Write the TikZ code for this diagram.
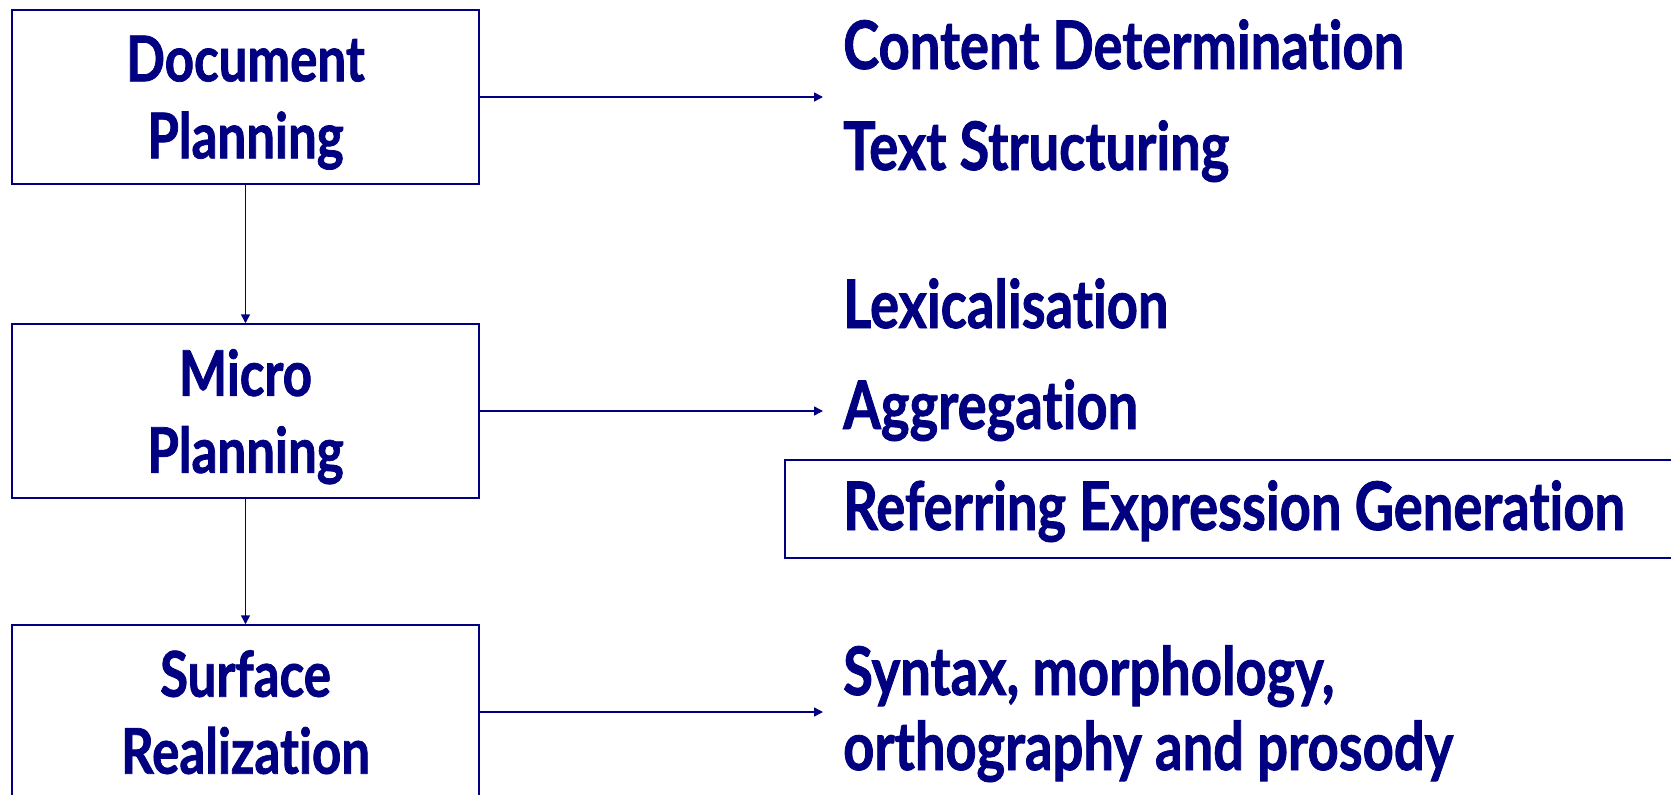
\documentclass[tikz,border=0pt]{standalone}
\usepackage{fontspec}
\newfontfamily\dfont{Lato}[FakeStretch=0.81, Ligatures=NoCommon, BoldFeatures={FakeBold=1.2}]
\usetikzlibrary{arrows.meta}
\definecolor{navy}{RGB}{0,0,128}
\begin{document}
\begin{tikzpicture}[x=1pt,y=-1pt,
  stage/.style={draw=navy, line width=1.5pt, minimum width=467pt, minimum height=174pt,
    inner sep=0pt, align=center, text=navy, text depth=0pt,
    font=\dfont\bfseries\fontsize{63}{77}\selectfont},
  item/.style={anchor=base west, inner sep=0pt, text=navy,
    font=\dfont\bfseries\fontsize{67}{80}\selectfont},
  conn/.style={draw=navy, line width=1.5pt, -{Triangle[length=9pt,width=9pt]}}]
\useasboundingbox (0,0) rectangle (1671,795);
\node[stage] (doc) at (245.5,97) {Document\\Planning};
\node[stage] (mic) at (245.5,411) {Micro\\Planning};
\node[stage] (sur) at (245.5,712) {Surface\\Realization};
\coordinate (e1) at (823,97);
\coordinate (e2) at (823,411);
\coordinate (e3) at (823,712);
\draw[conn] (doc.east) -- (e1);
\draw[conn] (mic.east) -- (e2);
\draw[conn] (sur.east) -- (e3);
\draw[conn] (doc.south) -- (mic.north);
\draw[conn] (mic.south) -- (sur.north);
\draw[navy, line width=1.5pt] (785,460) rectangle (1690,558);
\node[item] (cd) at (843,69) {Content Determination};
\node[item] (ts) at (843,170) {Text Structuring};
\node[item] (lx) at (843,328) {Lexicalisation};
\node[item] (ag) at (843,429) {Aggregation};
\node[item] (re) at (843,530) {Referring Expression Generation};
\node[item] (sy) at (843,695) {Syntax, morphology,};
\node[item] (or) at (843,770) {orthography and prosody};
\end{tikzpicture}
\end{document}
